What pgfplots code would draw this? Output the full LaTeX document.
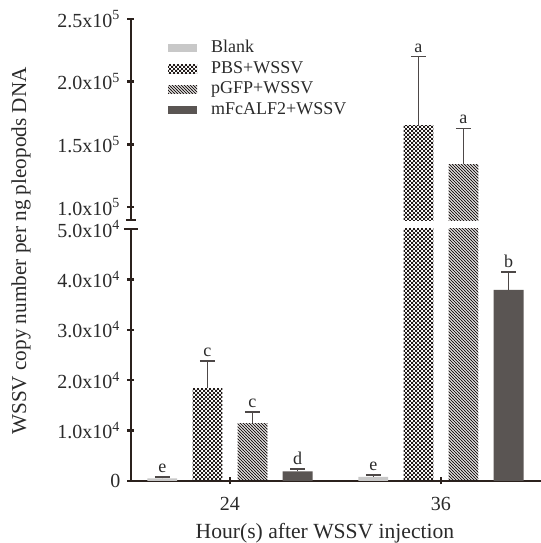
\documentclass[border=0pt]{standalone}
\usepackage{fontspec}
\setmainfont{Liberation Serif}
\usepackage{pgfplots}
\usepackage{pgfplotstable}
\pgfplotsset{compat=1.18}
\usetikzlibrary{patterns}

\definecolor{axiscol}{HTML}{2B211D}
\definecolor{blankcol}{HTML}{C8C8C8}
\definecolor{alfcol}{HTML}{5A5553}
\definecolor{errcol}{HTML}{4D4847}
\definecolor{patcol}{HTML}{231C1A}
\definecolor{txtcol}{HTML}{2A2A2A}

% fine checkerboard and fine "\" hatching
\pgfdeclarepatternformonly{finechecker}{\pgfpointorigin}{\pgfqpoint{2pt}{2pt}}{\pgfqpoint{2pt}{2pt}}{%
  \pgfpathrectangle{\pgfpointorigin}{\pgfqpoint{1pt}{1pt}}%
  \pgfpathrectangle{\pgfqpoint{1pt}{1pt}}{\pgfqpoint{1pt}{1pt}}%
  \pgfusepath{fill}}
\pgfdeclarepatternformonly{finediag}{\pgfqpoint{-0.5pt}{-0.5pt}}{\pgfqpoint{2pt}{2pt}}{\pgfqpoint{1.5pt}{1.5pt}}{%
  \pgfsetlinewidth{0.42pt}%
  \pgfpathmoveto{\pgfqpoint{-0.1pt}{1.6pt}}%
  \pgfpathlineto{\pgfqpoint{1.6pt}{-0.1pt}}%
  \pgfusepath{stroke}}

% mean, SD (upper) and significance letter
\pgfplotstableread{
hour val err lab
24 500 300 e
36 800 400 e
}\blankdata
\pgfplotstableread{
hour val err lab
24 18450 5350 c
36 165000 55000 a
}\pbsdata
\pgfplotstableread{
hour val err lab
24 11500 2200 c
36 134000 28700 a
}\pgfpdata
\pgfplotstableread{
hour val err lab
24 1900 500 d
36 37900 3600 b
}\alfdata

% offsets of the four bars inside a time group (axis units)
\def\offA{-3.85}\def\offB{-1.28}\def\offC{1.28}\def\offD{3.85}

\pgfplotsset{
  barbase/.style={ybar, bar width=1.7, bar shift=0pt, draw=none,
    error bars/y dir=plus, error bars/y explicit,
    error bars/error bar style={line width=0.7pt, errcol},
    error bars/error mark options={rotate=90, mark size=3.75pt, line width=0.7pt, errcol}},
  blankbar/.style={barbase, fill=blankcol},
  pbsbar/.style={barbase, pattern=finechecker, pattern color=patcol},
  pgfpbar/.style={barbase, pattern=finediag, pattern color=patcol},
  alfbar/.style={barbase, fill=alfcol},
  letters/.style={only marks, mark=none, forget plot, nodes near coords,
    point meta=explicit symbolic, nodes near coords align=above,
    every node near coord/.append style={font=\fontsize{9}{10}\selectfont, text=txtcol, inner sep=2pt}},
  common/.style={scale only axis, width=205pt, xmin=18.37, xmax=41.69,
    axis line style={-, line width=1.2pt, axiscol},
    tick style={line width=1.2pt, axiscol},
    tick align=outside, major tick length=3.5pt,
    scaled y ticks=false,
    ticklabel style={font=\fontsize{10}{12}\selectfont, text=txtcol},
    clip=true},
}

\begin{document}
\begin{tikzpicture}
\path[use as bounding box] (0,0) rectangle (270.5pt,271.5pt);

% lower segment: 0 to 5x10^4
\begin{axis}[common,
  at={(65.5pt,31pt)}, anchor=south west, height=126pt,
  ymin=0, ymax=50000,
  axis x line=bottom, axis y line=left,
  x axis line style={-}, y axis line style={-},
  xtick={24,36}, xticklabels={24,36},
  xticklabel style={yshift=-3pt},
  ytick={0,10000,20000,30000,40000,50000},
  yticklabels={0,1.0x10\textsuperscript{4},2.0x10\textsuperscript{4},3.0x10\textsuperscript{4},4.0x10\textsuperscript{4},5.0x10\textsuperscript{4}},
]
\addplot[blankbar] table[x expr=\thisrow{hour}+\offA, y=val, y error=err] {\blankdata};
\addplot[pbsbar] table[x expr=\thisrow{hour}+\offB, y=val, y error=err] {\pbsdata};
\addplot[pgfpbar] table[x expr=\thisrow{hour}+\offC, y=val, y error=err] {\pgfpdata};
\addplot[alfbar] table[x expr=\thisrow{hour}+\offD, y=val, y error=err] {\alfdata};
\addplot[letters, restrict y to domain=0:50000] table[x expr=\thisrow{hour}+\offA, y expr=\thisrow{val}+\thisrow{err}, meta=lab] {\blankdata};
\addplot[letters, restrict y to domain=0:50000] table[x expr=\thisrow{hour}+\offB, y expr=\thisrow{val}+\thisrow{err}, meta=lab] {\pbsdata};
\addplot[letters, restrict y to domain=0:50000] table[x expr=\thisrow{hour}+\offC, y expr=\thisrow{val}+\thisrow{err}, meta=lab] {\pgfpdata};
\addplot[letters, restrict y to domain=0:50000] table[x expr=\thisrow{hour}+\offD, y expr=\thisrow{val}+\thisrow{err}, meta=lab] {\alfdata};
\end{axis}

% upper segment: from just below 1x10^5 to 2.5x10^5
\begin{axis}[common,
  at={(65.5pt,161.5pt)}, anchor=south west, height=100.5pt,
  ymin=89600, ymax=250000,
  axis x line=none, xtick=\empty, axis y line=left, y axis line style={-},
  ytick={100000,150000,200000,250000},
  yticklabels={1.0x10\textsuperscript{5},1.5x10\textsuperscript{5},2.0x10\textsuperscript{5},2.5x10\textsuperscript{5}},
  legend style={at={(0.075,0.935)}, anchor=north west, draw=none, fill=none,
    font=\fontsize{9}{11}\selectfont, text=txtcol, row sep=-1.2pt,
    /tikz/every odd column/.append style={column sep=5pt}},
  legend cell align=left,
  legend image code/.code={\path[#1, draw=none] (0pt,-2.1pt) rectangle (14.5pt,2.1pt);},
]
\addlegendimage{blankbar}
\addlegendentry{Blank}
\addlegendimage{pbsbar}
\addlegendentry{PBS+WSSV}
\addlegendimage{pgfpbar}
\addlegendentry{pGFP+WSSV}
\addlegendimage{alfbar}
\addlegendentry{mFcALF2+WSSV}
% only the 36 h bars reach this range
\addplot[pbsbar, forget plot, restrict y to domain=89600:250000] table[x expr=\thisrow{hour}+\offB, y=val, y error=err] {\pbsdata};
\addplot[pgfpbar, forget plot, restrict y to domain=89600:250000] table[x expr=\thisrow{hour}+\offC, y=val, y error=err] {\pgfpdata};
\addplot[letters, restrict y to domain=89600:250000] table[x expr=\thisrow{hour}+\offB, y expr=\thisrow{val}+\thisrow{err}, meta=lab] {\pbsdata};
\addplot[letters, restrict y to domain=89600:250000] table[x expr=\thisrow{hour}+\offC, y expr=\thisrow{val}+\thisrow{err}, meta=lab] {\pgfpdata};
\end{axis}

% break caps on the value axis
\draw[axiscol, line width=1.2pt] (62pt,157pt) -- (69pt,157pt);
\draw[axiscol, line width=1.2pt] (63pt,161.5pt) -- (68pt,161.5pt);

% axis titles
\node[rotate=90, font=\fontsize{10.6}{12}\selectfont, text=txtcol] at (10.5pt,146pt) {WSSV copy number per ng pleopods DNA};
\node[font=\fontsize{10.8}{12}\selectfont, text=txtcol] at (162.5pt,5pt) {Hour(s) after WSSV injection};
\end{tikzpicture}
\end{document}
